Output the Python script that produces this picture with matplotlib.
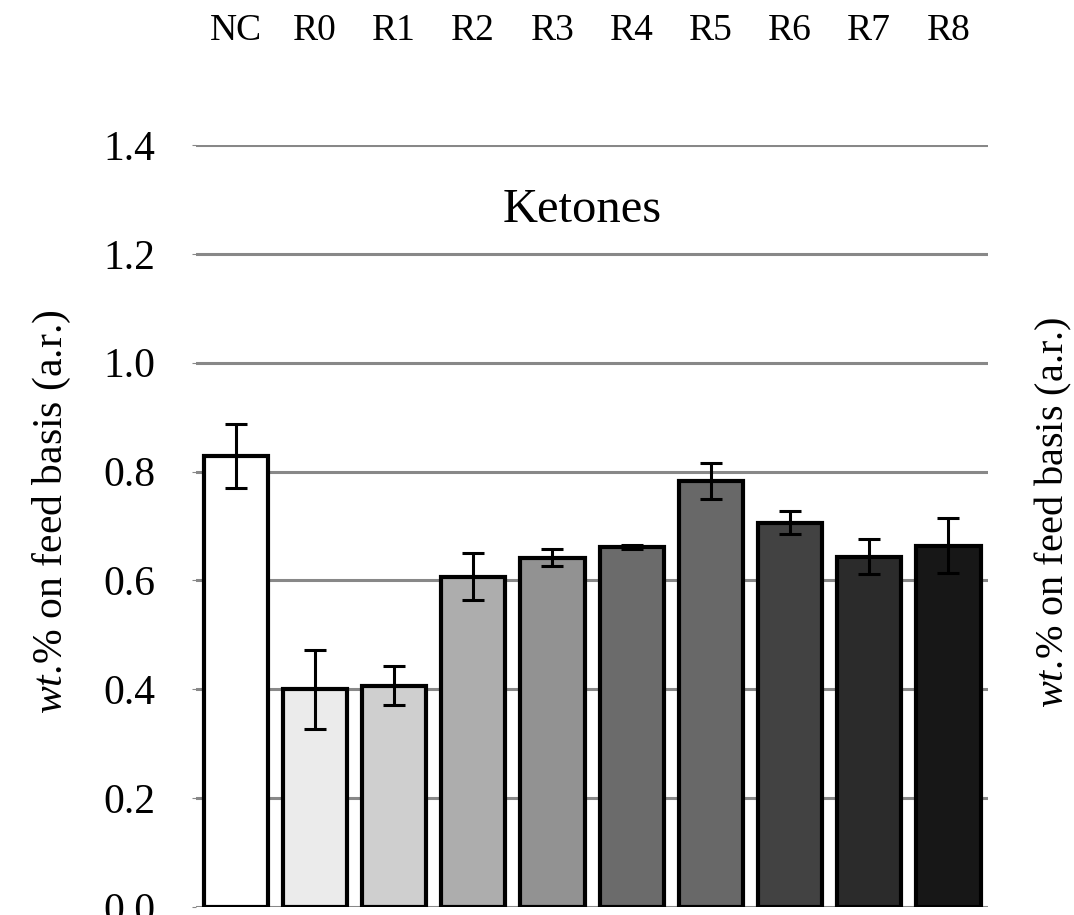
import matplotlib
matplotlib.use('Agg')
import matplotlib.pyplot as plt

# 字体设置: Times 风格衬线体
matplotlib.rcParams['font.family'] = ['Liberation Serif', 'DejaVu Serif']
matplotlib.rcParams['mathtext.fontset'] = 'custom'
matplotlib.rcParams['mathtext.rm'] = 'Liberation Serif'
matplotlib.rcParams['mathtext.it'] = 'Liberation Serif:italic'

# 数据
samples = ['NC', 'R0', 'R1', 'R2', 'R3', 'R4', 'R5', 'R6', 'R7', 'R8']
ketones = [0.828, 0.400, 0.407, 0.607, 0.642, 0.662, 0.783, 0.706, 0.644, 0.664]
ketones_err = [0.059, 0.072, 0.035, 0.043, 0.015, 0.004, 0.033, 0.021, 0.033, 0.050]
bar_colors = ['#ffffff', '#ebebeb', '#cfcfcf', '#adadad', '#929292',
              '#6b6b6b', '#686868', '#424242', '#2b2b2b', '#171717']
y_ticks = [0.0, 0.2, 0.4, 0.6, 0.8, 1.0, 1.2, 1.4]

fig = plt.figure(figsize=(10.74, 9.15), dpi=100)
ax = fig.add_axes([0.1825, 0.0087, 0.7375, 0.8328])

x = list(range(len(samples)))
ax.bar(x, ketones, width=0.81, color=bar_colors, edgecolor='black', linewidth=3, zorder=3)
ax.errorbar(x, ketones, yerr=ketones_err, fmt='none', ecolor='black',
            elinewidth=2.2, capsize=8, capthick=2.2, zorder=4)

ax.set_xlim(-0.5, len(samples) - 0.5)
ax.set_ylim(0, 1.4)
ax.set_yticks(y_ticks, labels=[f'{v:.1f}' for v in y_ticks])
ax.tick_params(axis='y', labelsize=30, length=3, color='#888888', pad=26)
ax.yaxis.grid(True, color='#888888', linewidth=2.2, zorder=0)
ax.set_axisbelow(True)

# 样品名称放在顶部
ax.xaxis.tick_top()
ax.set_xticks(x, labels=samples)
ax.tick_params(axis='x', labelsize=27, length=0, pad=70)

for s in ax.spines.values():
    s.set_visible(False)

ax.text(0.487, 0.915, 'Ketones', transform=ax.transAxes, fontsize=35,
        ha='center', va='center')

ylabel = r'$\mathit{wt.}\!$% on feed basis (a.r.)'
fig.text(52 / 1074, 1 - 512 / 915, ylabel, rotation=90, fontsize=30,
         ha='center', va='center')
fig.text(1053 / 1074, 1 - 512 / 915, ylabel, rotation=90, fontsize=29,
         ha='center', va='center')

fig.savefig('out.png', dpi=100)
